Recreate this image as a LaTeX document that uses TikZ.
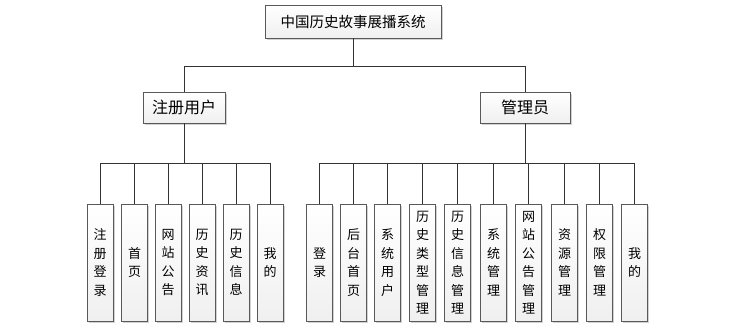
\documentclass[tikz,border=0pt]{standalone}
\usepackage{fontspec}
\setmainfont{Noto Sans CJK SC}
\usetikzlibrary{shadows}
\tikzset{
  box/.style={draw=gray!70!black, line width=0.8pt, top color=white, bottom color=gray!12,
    drop shadow={shadow xshift=1.5pt, shadow yshift=-1.5pt, fill=gray!35, opacity=1},
    inner sep=0pt, align=center},
  leaf/.style={box, minimum width=26pt, minimum height=117pt, text width=14pt,
    font=\fontsize{13}{18.5}\selectfont},
  link/.style={line width=0.7pt, black!80}
}
\begin{document}
\begin{tikzpicture}[x=1pt, y=-1pt]
  \useasboundingbox (0,0) rectangle (734,327);

  % 根节点
  \node[box, minimum width=176pt, minimum height=33pt, font=\fontsize{14.5}{16}\selectfont] (root) at (353,21.5) {中国历史故事展播系统};

  % 角色
  \node[box, minimum width=82pt, minimum height=31pt, font=\fontsize{16}{18}\selectfont] (user) at (184,107.5) {注册用户};
  \node[box, minimum width=90pt, minimum height=31pt, font=\fontsize{16}{18}\selectfont] (admin) at (525,107.5) {管理员};

  % 注册用户功能
  \node[leaf] (u1) at (100,262.5) {注\\册\\登\\录};
  \node[leaf] (u2) at (134.5,262.5) {首\\页};
  \node[leaf] (u3) at (168,262.5) {网\\站\\公\\告};
  \node[leaf] (u4) at (202,262.5) {历\\史\\资\\讯};
  \node[leaf] (u5) at (236,262.5) {历\\史\\信\\息};
  \node[leaf] (u6) at (270,262.5) {我\\的};

  % 管理员功能
  \node[leaf] (a1) at (319.5,262.5) {登\\录};
  \node[leaf] (a2) at (353.5,262.5) {后\\台\\首\\页};
  \node[leaf] (a3) at (387.5,262.5) {系\\统\\用\\户};
  \node[leaf] (a4) at (422.5,262.5) {历\\史\\类\\型\\管\\理};
  \node[leaf] (a5) at (457.5,262.5) {历\\史\\信\\息\\管\\理};
  \node[leaf] (a6) at (493.5,262.5) {系\\统\\管\\理};
  \node[leaf] (a7) at (528.5,262.5) {网\\站\\公\\告\\管\\理};
  \node[leaf] (a8) at (564.5,262.5) {资\\源\\管\\理};
  \node[leaf] (a9) at (599.5,262.5) {权\\限\\管\\理};
  \node[leaf] (a10) at (634.5,262.5) {我\\的};

  % 连线
  \draw[link] (root.south) -- ++(0,28) -| (user.north);
  \draw[link] (root.south) -- ++(0,28) -| (admin.north);

  \draw[link] (user.south) -- ++(0,40) -| (u1.north);
  \draw[link] (user.south) -- ++(0,40) -| (u2.north);
  \draw[link] (user.south) -- ++(0,40) -| (u3.north);
  \draw[link] (user.south) -- ++(0,40) -| (u4.north);
  \draw[link] (user.south) -- ++(0,40) -| (u5.north);
  \draw[link] (user.south) -- ++(0,40) -| (u6.north);

  \draw[link] (admin.south) -- ++(0,40) -| (a1.north);
  \draw[link] (admin.south) -- ++(0,40) -| (a2.north);
  \draw[link] (admin.south) -- ++(0,40) -| (a3.north);
  \draw[link] (admin.south) -- ++(0,40) -| (a4.north);
  \draw[link] (admin.south) -- ++(0,40) -| (a5.north);
  \draw[link] (admin.south) -- ++(0,40) -| (a6.north);
  \draw[link] (admin.south) -- ++(0,40) -| (a7.north);
  \draw[link] (admin.south) -- ++(0,40) -| (a8.north);
  \draw[link] (admin.south) -- ++(0,40) -| (a9.north);
  \draw[link] (admin.south) -- ++(0,40) -| (a10.north);
\end{tikzpicture}
\end{document}
